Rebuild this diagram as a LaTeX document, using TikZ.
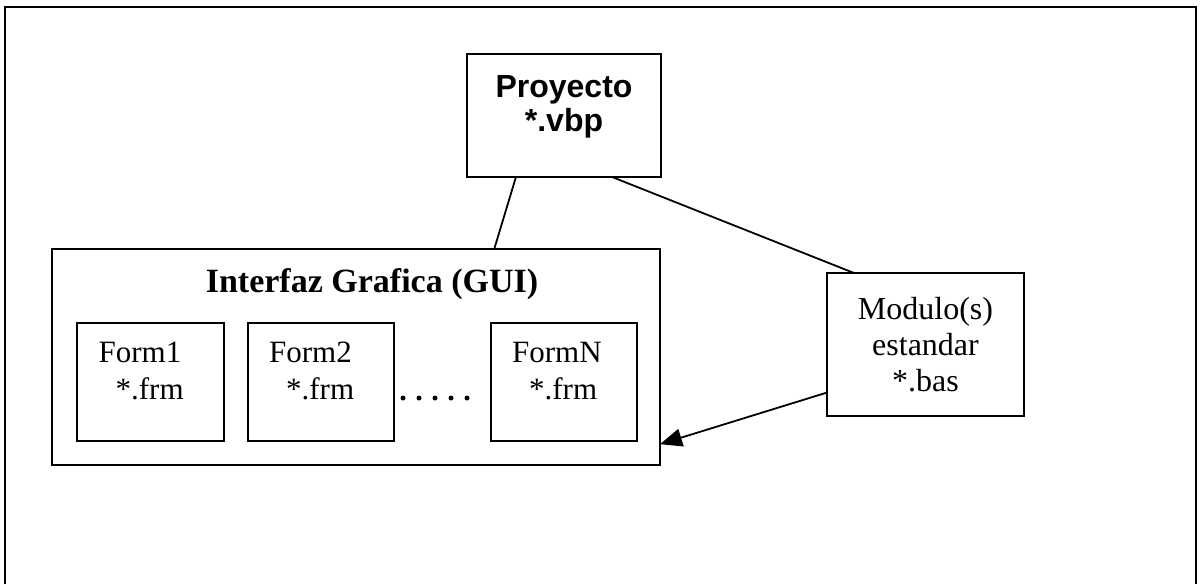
\documentclass[tikz,border=0pt]{standalone}
\usepackage{fontspec}
\setmainfont{Liberation Serif}
\newfontfamily\arialfont{Liberation Sans}
\usetikzlibrary{arrows.meta}

\tikzset{
  box/.style={draw, line width=1pt, inner sep=0pt, outer sep=0pt},
  formbox/.style={box, minimum width=73.25pt, minimum height=59pt},
  formtxt/.style={anchor=base west, inner sep=0pt, font=\fontsize{15.5}{18.5}\selectfont},
  link/.style={line width=0.9pt},
}

\begin{document}
\begin{tikzpicture}[x=0.5pt, y=-0.5pt]
        \useasboundingbox (0,0) rectangle (1200,584);
        %% Outer frame, open at the bottom
        \draw[line width=1.3pt] (5,584) -- (5,7) -- (1196,7) -- (1196,584);
        %% Proyecto
        \node[box, minimum width=97pt, minimum height=61.5pt] (proy) at (564,115.5) {};
        \node[anchor=base, inner sep=0pt, font=\arialfont\bfseries\fontsize{16}{18}\selectfont] (proyname) at (564,97) {Proyecto};
        \node[anchor=base, inner sep=0pt, font=\arialfont\bfseries\fontsize{16}{18}\selectfont] (proyext) at (564,131) {*.vbp};
        %% GUI block
        \node[box, minimum width=304pt, minimum height=108pt] (gui) at (356,357) {};
        \node[anchor=base, inner sep=0pt, font=\bfseries\fontsize{17}{20}\selectfont] (guititle) at (372,292) {Interfaz Grafica (GUI)};
        %% Forms
        \foreach \name/\cx/\lbl in {fone/150.5/Form1, ftwo/321/Form2, fn/564/FormN} {
            \node[formbox] (\name) at (\cx,382) {};
            \node[formtxt] (\name name) at ([shift={(21,-20)}]\name.west) {\lbl};
            \node[formtxt] (\name ext) at ([shift={(38,17)}]\name.west) {*.frm};
        }
        \foreach \x in {0,...,4}
            \fill (403+16*\x,398) circle (1.25pt);
        %% Modulo(s)
        \node[box, minimum width=98.5pt, minimum height=71.5pt, align=center,
              font=\fontsize{16}{18}\selectfont] (mod) at (925.5,344.5) {Modulo(s)\\estandar\\*.bas};
        %% Connectors
        \draw[link] (proy.232) -- (gui.38.5);
        \draw[link] (proy.308.5) -- (mod.135.8);
        \draw[link, -{Triangle[length=11pt, width=9pt]}] (mod.206.2) -- (gui.344.7);
\end{tikzpicture}
\end{document}
